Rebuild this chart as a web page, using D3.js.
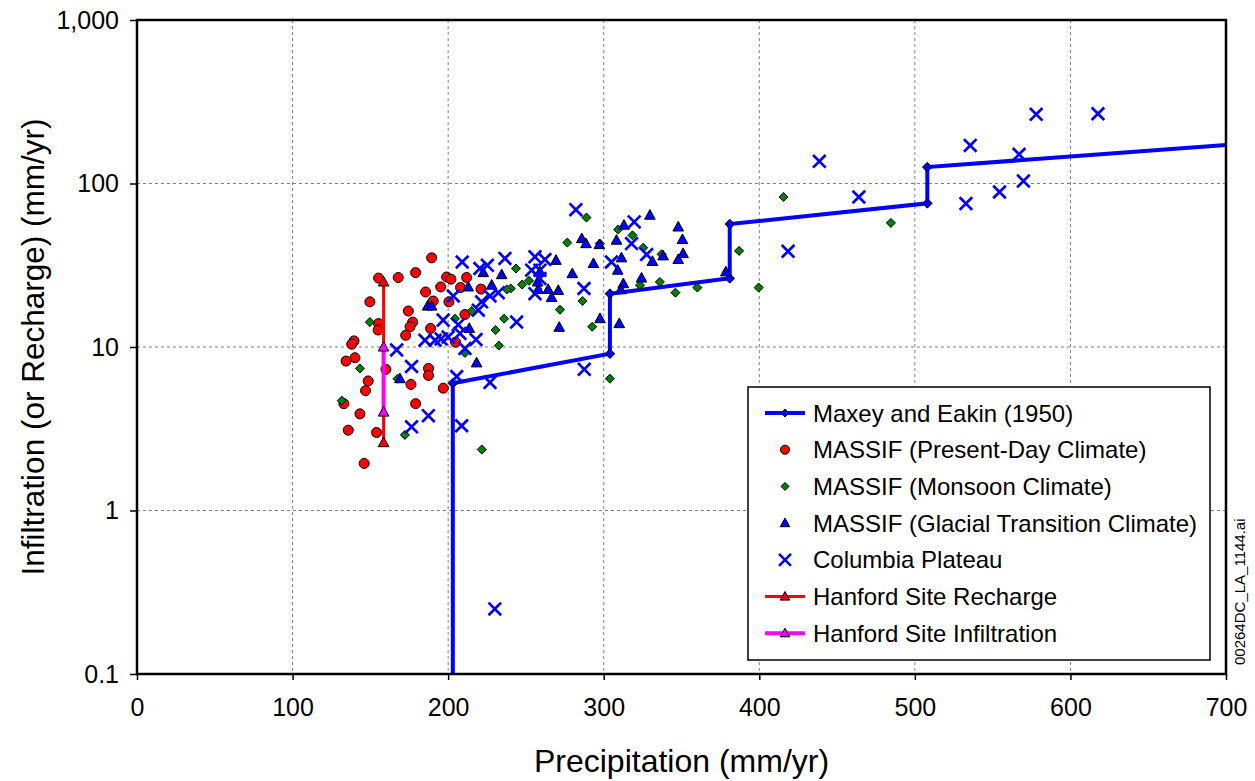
<!DOCTYPE html>
<html><head><meta charset="utf-8">
<script src="https://cdn.jsdelivr.net/npm/d3@7"></script>
<style>
body{margin:0;background:#fff;}
text{font-family:"Liberation Sans",Arial,Helvetica,sans-serif;fill:#000;}
</style>
</head><body>
<svg id="chart" width="1255" height="781"></svg>
<script>
// ---------- DATA ----------
const xTicks = [0, 100, 200, 300, 400, 500, 600, 700];
const yTicks = [0.1, 1, 10, 100, 1000];
const yTickLabels = ["0.1", "1", "10", "100", "1,000"];

const maxeyPrecip = [203, 203, 304, 304, 381, 381, 508, 508, 700];
const maxeyValue  = [0.1, 6.0, 9.1, 21.2, 26.3, 56.5, 75.6, 126, 172];

const presentDay = [
  [189.4,35.1],[179.1,28.5],[167.9,26.6],[155.3,26.4],[199,26.8],[201.8,26],[211.9,26.6],
  [195.2,23.3],[208,23.1],[221.1,22.6],[185.5,21.7],[190.4,19.1],[200.5,18.9],[149.7,18.9],
  [174.4,16.6],[177.2,14.2],[175.5,13.3],[172.7,11.8],[188.7,13],[210.8,15.8],[204.8,10.7],
  [155.3,13.9],[155,12.7],[139.5,10.9],[138,10.4],[140.1,8.6],[134.4,8.2],[160,7.3],
  [187.4,7.4],[187.4,6.7],[148.6,6.2],[146.9,5.4],[176.1,5.9],[196.9,5.6],[133,4.5],
  [179.1,4.5],[143.3,3.9],[135.8,3.1],[154,3.0],[146,1.94]
];

const monsoon = [
  [415.6,82.7],[484.6,57.4],[387,38.7],[399.6,23.1],[288.9,61.9],[309.3,52.3],[318.5,48.2],
  [276.6,43.5],[297.5,42.9],[325.4,40.5],[337.2,36.9],[243.6,30.2],[252,25.4],[247.6,24.1],
  [240.2,22.8],[237.7,22.5],[336.1,25],[323.3,23.9],[346.1,21.5],[360.2,23.1],[286.4,19.1],
  [271.9,16.9],[292.6,13.3],[236,14.9],[232.6,10.2],[304,6.4],[215,16.6],[204.4,14.9],
  [230.5,12.7],[210.8,9.2],[149.7,14.2],[131.6,4.7],[143.3,7.4],[167.5,6.4],[172.2,2.9],
  [221.6,2.36]
];

const glacial = [
  [329.7,64],[347.9,54.2],[350.6,45.4],[351,37.3],[347.9,34.3],[338.2,36.1],[331.3,33.4],
  [313,55.6],[308.2,45],[311.4,35.1],[309,29.5],[312.6,24.4],[311,22.4],[324.3,26.4],
  [310,13.9],[297.6,14.9],[293.4,32.4],[297.2,42.3],[285.9,46],[288.6,42.9],[279.8,28.1],
  [269.3,33.9],[270.8,22.2],[264.3,22.5],[266.5,20.1],[257.9,22.5],[271.4,13.2],
  [186.8,17.8],[189.4,17.8],[212.9,23.3],[222.6,28.5],[234.4,27.7],[228,23.9],[213.6,13],
  [218.3,8],[257.5,25],[259,28.8],[169,6.4],[378.5,28.8]
];

const columbia = [
  [438.6,136.7],[464,82.7],[418.5,38.5],[535.6,171],[532.8,75.4],[554.4,88.7],[567,150.8],
  [569.8,103.5],[578,265],[617.7,267],[282.1,69.2],[319.6,58.2],[317.9,42.9],[327.6,36.8],
  [305,33.1],[236.5,34.8],[255.8,35.6],[262.2,34.3],[253.7,29.5],[259,29.5],[259,26.2],
  [255.8,21.2],[287.3,22.8],[244,14.2],[287.5,7.3],[209,33.1],[225.2,31.6],[220.4,30.2],
  [203.3,20.5],[221.5,18.9],[232.2,21.5],[226.9,20.5],[219.4,16.8],[196.8,14.6],[206.5,13.7],
  [207.6,12.1],[217.9,11.1],[185.1,11],[191.6,11],[195.5,11.2],[200,11.5],[210.8,9.8],
  [176.5,7.6],[205.5,6.6],[166.9,9.6],[187.3,3.8],[176.5,3.25],[208.7,3.3],[226.9,6.07],
  [230,0.25]
];

const hanfordPrecip = 158.5;
const hanfordRecharge = [2.6, 25];
const hanfordInfiltration = [4, 10];

const legendLabels = [
  "Maxey and Eakin (1950)",
  "MASSIF (Present-Day Climate)",
  "MASSIF (Monsoon Climate)",
  "MASSIF (Glacial Transition Climate)",
  "Columbia Plateau",
  "Hanford Site Recharge",
  "Hanford Site Infiltration"
];

// ---------- LAYOUT ----------
const svg = d3.select("#chart");
const L = 137, R = 1226, T = 20, B = 674;
const x = d3.scaleLinear().domain([0, 700]).range([L, R]);
const y = d3.scaleLog().domain([0.1, 1000]).range([B, T]);

const BLUE = "#0000ff", RED = "#ff0000", GREEN = "#008000", MAG = "#ff00ff";
const diamond = s => `M0,${-s}L${s},0L0,${s}L${-s},0Z`;
const tri = s => `M0,${-s}L${s*0.95},${s*0.72}L${-s*0.95},${s*0.72}Z`;
const cross = s => `M${-s},${-s}L${s},${s}M${-s},${s}L${s},${-s}`;

// gridlines
const grid = svg.append("g");
grid.selectAll(".gx").data(xTicks.filter(d => d > 0 && d < 700)).enter().append("line")
  .attr("x1", d => x(d)).attr("x2", d => x(d)).attr("y1", T).attr("y2", B)
  .attr("stroke", "#808080").attr("stroke-width", 1).attr("stroke-dasharray", "3,3");
grid.selectAll(".gy").data(yTicks.filter(d => d > 0.1 && d < 1000)).enter().append("line")
  .attr("y1", d => y(d)).attr("y2", d => y(d)).attr("x1", L).attr("x2", R)
  .attr("stroke", "#808080").attr("stroke-width", 1).attr("stroke-dasharray", "3,3");

// axes
const yAxis = d3.axisLeft(y).tickValues(yTicks)
  .tickFormat((d, i) => yTickLabels[i]).tickSize(7).tickPadding(11);
const gy = svg.append("g").attr("transform", `translate(${L},0)`).call(yAxis);
const xAxis = d3.axisBottom(x).tickValues(xTicks).tickFormat(d3.format("d")).tickSize(6).tickPadding(18);
const gx = svg.append("g").attr("transform", `translate(0,${B})`).call(xAxis);
[gx, gy].forEach(g => {
  g.select(".domain").remove();
  g.selectAll(".tick line").attr("stroke", "#000").attr("stroke-width", 1.5);
  g.selectAll(".tick text").attr("font-size", 25)
    .attr("font-family", '"Liberation Sans",Arial,sans-serif').attr("fill", "#000");
});

// clip
svg.append("clipPath").attr("id", "clip").append("rect")
  .attr("x", L).attr("y", T).attr("width", R - L).attr("height", B - T);
const plot = svg.append("g").attr("clip-path", "url(#clip)");

// Maxey and Eakin
const maxey = maxeyPrecip.map((p, i) => [p, maxeyValue[i]]);
plot.append("path").datum(maxey)
  .attr("d", d3.line().x(d => x(d[0])).y(d => y(d[1])))
  .attr("fill", "none").attr("stroke", BLUE).attr("stroke-width", 4);
plot.selectAll(".mx").data(maxey.slice(1, -1)).enter().append("path")
  .attr("d", diamond(4.8))
  .attr("transform", d => `translate(${x(d[0])},${y(d[1])})`)
  .attr("fill", BLUE).attr("stroke", "#000").attr("stroke-width", 1);

// present-day
plot.selectAll(".pd").data(presentDay).enter().append("circle")
  .attr("cx", d => x(d[0])).attr("cy", d => y(d[1])).attr("r", 5)
  .attr("fill", RED).attr("stroke", "#000").attr("stroke-width", 1);

// monsoon
plot.selectAll(".mo").data(monsoon).enter().append("path")
  .attr("d", diamond(4.5))
  .attr("transform", d => `translate(${x(d[0])},${y(d[1])})`)
  .attr("fill", GREEN).attr("stroke", "#000").attr("stroke-width", 1);

// glacial
plot.selectAll(".gl").data(glacial).enter().append("path")
  .attr("d", tri(5.6))
  .attr("transform", d => `translate(${x(d[0])},${y(d[1])})`)
  .attr("fill", BLUE).attr("stroke", "#000").attr("stroke-width", 1);

// columbia plateau
plot.selectAll(".cp").data(columbia).enter().append("path")
  .attr("d", cross(6.3))
  .attr("transform", d => `translate(${x(d[0])},${y(d[1])})`)
  .attr("fill", "none").attr("stroke", BLUE).attr("stroke-width", 2.7);

// Hanford
function hanford(vals, color, width) {
  plot.append("path").datum(vals)
    .attr("d", d3.line().x(() => x(hanfordPrecip)).y(d => y(d)))
    .attr("stroke", color).attr("stroke-width", width).attr("fill", "none");
  plot.selectAll(null).data(vals).enter().append("path")
    .attr("d", tri(5.6))
    .attr("transform", d => `translate(${x(hanfordPrecip)},${y(d)})`)
    .attr("fill", color).attr("stroke", "#000").attr("stroke-width", 1);
}
hanford(hanfordRecharge, RED, 3);
hanford(hanfordInfiltration, MAG, 4);

// frame
svg.append("rect").attr("x", L).attr("y", T).attr("width", R - L).attr("height", B - T)
  .attr("fill", "none").attr("stroke", "#000").attr("stroke-width", 2.5);

// legend
const lg = svg.append("g");
lg.append("rect").attr("x", 748).attr("y", 387).attr("width", 462).attr("height", 273)
  .attr("fill", "#fff").attr("stroke", "#000").attr("stroke-width", 1.5);
const rowY = i => 413 + i * 36.7;
const sx = 785;
legendLabels.forEach((lab, i) => {
  const yy = rowY(i);
  if (i === 0) {
    lg.append("line").attr("x1", 765).attr("x2", 805).attr("y1", yy).attr("y2", yy)
      .attr("stroke", BLUE).attr("stroke-width", 4);
    lg.append("path").attr("d", diamond(4)).attr("transform", `translate(${sx},${yy})`)
      .attr("fill", BLUE).attr("stroke", "#000");
  } else if (i === 1) {
    lg.append("circle").attr("cx", sx).attr("cy", yy).attr("r", 4.5)
      .attr("fill", RED).attr("stroke", "#000");
  } else if (i === 2) {
    lg.append("path").attr("d", diamond(4)).attr("transform", `translate(${sx},${yy})`)
      .attr("fill", GREEN).attr("stroke", "#000");
  } else if (i === 3) {
    lg.append("path").attr("d", tri(5)).attr("transform", `translate(${sx},${yy})`)
      .attr("fill", BLUE).attr("stroke", "#000");
  } else if (i === 4) {
    lg.append("path").attr("d", cross(6)).attr("transform", `translate(${sx},${yy})`)
      .attr("fill", "none").attr("stroke", BLUE).attr("stroke-width", 2.6);
  } else {
    const c = i === 5 ? RED : MAG;
    lg.append("line").attr("x1", 765).attr("x2", 805).attr("y1", yy).attr("y2", yy)
      .attr("stroke", c).attr("stroke-width", i === 5 ? 3 : 4);
    lg.append("path").attr("d", tri(5)).attr("transform", `translate(${sx},${yy})`)
      .attr("fill", c).attr("stroke", "#000");
  }
  lg.append("text").attr("x", 813).attr("y", yy).attr("dy", "0.36em")
    .attr("font-size", 24).text(lab);
});

// axis titles
svg.append("text").attr("x", (L + R) / 2).attr("y", 772).attr("text-anchor", "middle")
  .attr("font-size", 32).text("Precipitation (mm/yr)");
svg.append("text").attr("transform", `translate(44,${(T + B) / 2}) rotate(-90)`)
  .attr("text-anchor", "middle").attr("font-size", 31.5).text("Infiltration (or Recharge) (mm/yr)");

// file id
svg.append("text").attr("transform", "translate(1245,665) rotate(-90)")
  .attr("font-size", 15).text("00264DC_LA_1144.ai");
</script>
</body></html>
